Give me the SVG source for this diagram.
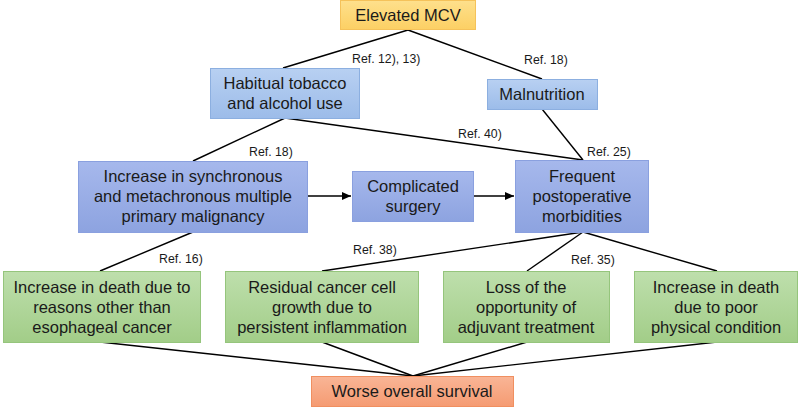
<svg xmlns="http://www.w3.org/2000/svg" width="800" height="407" viewBox="0 0 800 407">
<defs>
<linearGradient id="gY" x1="0" y1="0" x2="0" y2="1"><stop offset="0" stop-color="#fee08c"/><stop offset="1" stop-color="#fcd064"/></linearGradient>
<linearGradient id="gB1" x1="0" y1="0" x2="0" y2="1"><stop offset="0" stop-color="#b8d0f2"/><stop offset="1" stop-color="#9cbce9"/></linearGradient>
<linearGradient id="gB2" x1="0" y1="0" x2="0" y2="1"><stop offset="0" stop-color="#a6b8ec"/><stop offset="1" stop-color="#8da3e0"/></linearGradient>
<linearGradient id="gG" x1="0" y1="0" x2="0" y2="1"><stop offset="0" stop-color="#bedfac"/><stop offset="1" stop-color="#a2cd88"/></linearGradient>
<linearGradient id="gO" x1="0" y1="0" x2="0" y2="1"><stop offset="0" stop-color="#f9b596"/><stop offset="1" stop-color="#f59b72"/></linearGradient>
<marker id="arr" markerWidth="10" markerHeight="10" refX="9" refY="5" orient="auto" markerUnits="userSpaceOnUse"><path d="M0,1 L9,5 L0,9 z" fill="#000"/></marker>
</defs>
<style>
text{font-family:"Liberation Sans",Arial,sans-serif;fill:#1a1a1a;}
.n{font-size:16.5px;text-anchor:middle;}
.r{font-size:12.3px;}
.ln{stroke:#000;stroke-width:1.4;fill:none;}
.y{fill:url(#gY);stroke:#f5c25a;stroke-width:1;}
.b1{fill:url(#gB1);stroke:#8cafe0;stroke-width:1;}
.b2{fill:url(#gB2);stroke:#8aa0df;stroke-width:1;}
.g{fill:url(#gG);stroke:#95c57c;stroke-width:1;}
.o{fill:url(#gO);stroke:#f08f60;stroke-width:1;}
</style>
<rect width="800" height="407" fill="#fff"/>
<g id="connectors">
<line class="ln" x1="408" y1="30" x2="283" y2="68"/>
<line class="ln" x1="408" y1="30" x2="542" y2="79"/>
<line class="ln" x1="285" y1="118" x2="193" y2="161"/>
<line class="ln" x1="285" y1="118" x2="583" y2="160"/>
<line class="ln" x1="542" y1="109" x2="583" y2="160"/>
<line class="ln" x1="307" y1="196" x2="351" y2="196" marker-end="url(#arr)"/>
<line class="ln" x1="473" y1="196" x2="514" y2="196" marker-end="url(#arr)"/>
<line class="ln" x1="193" y1="232" x2="100" y2="271"/>
<line class="ln" x1="583" y1="232" x2="322" y2="271"/>
<line class="ln" x1="583" y1="232" x2="527" y2="271"/>
<line class="ln" x1="583" y1="232" x2="717" y2="271"/>
<line class="ln" x1="100" y1="342" x2="413" y2="376"/>
<line class="ln" x1="322" y1="342" x2="413" y2="376"/>
<line class="ln" x1="527" y1="342" x2="413" y2="376"/>
<line class="ln" x1="717" y1="342" x2="413" y2="376"/>
<text class="r" x="352" y="63">Ref. 12), 13)</text>
<text class="r" x="524" y="64">Ref. 18)</text>
<text class="r" x="458" y="138">Ref. 40)</text>
<text class="r" x="249" y="156">Ref. 18)</text>
<text class="r" x="587" y="156">Ref. 25)</text>
<text class="r" x="159" y="263">Ref. 16)</text>
<text class="r" x="353" y="254">Ref. 38)</text>
<text class="r" x="571" y="264">Ref. 35)</text>
</g>
<g id="mcv"><rect class="y" x="340.5" y="0.5" width="135" height="29"/><text class="n" x="408" y="21">Elevated MCV</text></g>
<g id="habitual"><rect class="b1" x="210.5" y="68.5" width="149" height="50"/><text class="n" x="285" y="89">Habitual tobacco</text><text class="n" x="285" y="109">and alcohol use</text></g>
<g id="malnutrition"><rect class="b1" x="487.5" y="79.5" width="110" height="30"/><text class="n" x="542" y="100">Malnutrition</text></g>
<g id="synchronous"><rect class="b2" x="78.5" y="161.5" width="229" height="71"/><text class="n" x="193" y="182">Increase in synchronous</text><text class="n" x="193" y="202">and metachronous multiple</text><text class="n" x="193" y="222">primary malignancy</text></g>
<g id="surgery"><rect class="b2" x="352.5" y="171.5" width="121" height="50"/><text class="n" x="413" y="192">Complicated</text><text class="n" x="413" y="212">surgery</text></g>
<g id="morbidities"><rect class="b2" x="515.5" y="160.5" width="133" height="72"/><text class="n" x="582" y="182">Frequent</text><text class="n" x="582" y="202">postoperative</text><text class="n" x="582" y="222">morbidities</text></g>
<g id="death-other"><rect class="g" x="3.5" y="271.5" width="197" height="71"/><text class="n" x="102" y="293">Increase in death due to</text><text class="n" x="102" y="313">reasons other than</text><text class="n" x="102" y="333">esophageal cancer</text></g>
<g id="residual"><rect class="g" x="225.5" y="271.5" width="193" height="71"/><text class="n" x="322" y="293">Residual cancer cell</text><text class="n" x="322" y="313">growth due to</text><text class="n" x="322" y="333">persistent inflammation</text></g>
<g id="adjuvant"><rect class="g" x="443.5" y="271.5" width="166" height="71"/><text class="n" x="526" y="293">Loss of the</text><text class="n" x="526" y="313">opportunity of</text><text class="n" x="526" y="333">adjuvant treatment</text></g>
<g id="death-poor"><rect class="g" x="634.5" y="271.5" width="163" height="71"/><text class="n" x="716" y="293">Increase in death</text><text class="n" x="716" y="313">due to poor</text><text class="n" x="716" y="333">physical condition</text></g>
<g id="survival"><rect class="o" x="311.5" y="376.5" width="202" height="30"/><text class="n" x="412" y="397">Worse overall survival</text></g>
</svg>
